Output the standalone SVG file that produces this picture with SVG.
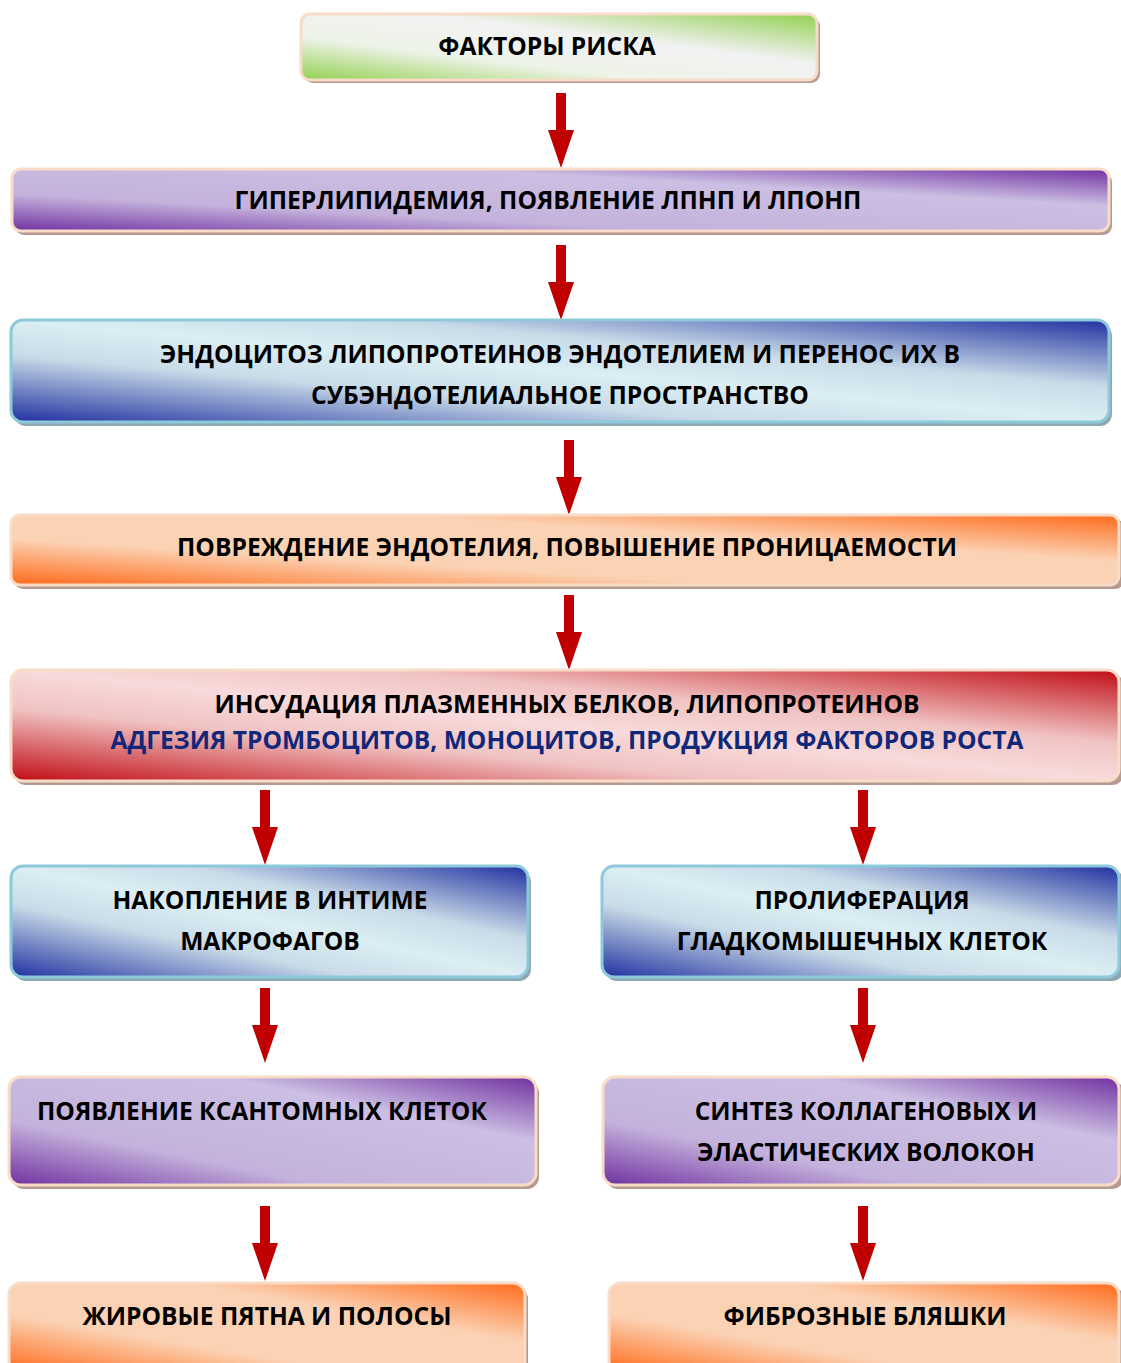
<svg xmlns="http://www.w3.org/2000/svg" width="1121" height="1363" viewBox="0 0 1121 1363">
<defs>
<linearGradient id="gGreen" x1="0" y1="1" x2="1" y2="0">
<stop offset="0" stop-color="#92d050"/><stop offset="0.33" stop-color="#eef3e8"/><stop offset="0.62" stop-color="#f2f2f2"/><stop offset="1" stop-color="#92d050"/>
</linearGradient>
<linearGradient id="gPurple" x1="0" y1="1" x2="1" y2="0">
<stop offset="0" stop-color="#7030a0"/><stop offset="0.3" stop-color="#c4b2dc"/><stop offset="0.7" stop-color="#ccbfe3"/><stop offset="1" stop-color="#7030a0"/>
</linearGradient>
<linearGradient id="gBlue" x1="0" y1="1" x2="1" y2="0">
<stop offset="0" stop-color="#2030a0"/><stop offset="0.33" stop-color="#c9dbe8"/><stop offset="0.5" stop-color="#dbeef3"/><stop offset="0.67" stop-color="#c9dbe8"/><stop offset="1" stop-color="#2030a0"/>
</linearGradient>
<linearGradient id="gOrange" x1="0" y1="1" x2="1" y2="0">
<stop offset="0" stop-color="#ff6a1a"/><stop offset="0.33" stop-color="#fbd2b3"/><stop offset="0.67" stop-color="#fbd2b3"/><stop offset="1" stop-color="#ff6a1a"/>
</linearGradient>
<linearGradient id="gRed" x1="0" y1="1" x2="1" y2="0">
<stop offset="0" stop-color="#c00c14"/><stop offset="0.33" stop-color="#f1c3c3"/><stop offset="0.5" stop-color="#f8dada"/><stop offset="0.67" stop-color="#f1c3c3"/><stop offset="1" stop-color="#c00c14"/>
</linearGradient>
<path id="arrow" d="M-5,0 H5 V37 H13 L0,75 L-13,37 H-5 Z" fill="#c00000"/>
</defs>
<style>
.sh { fill: #b59a92; }
.shb { fill: #8ea8b3; }
.bp { stroke: #f8dcc7; stroke-width: 3; }
.bb { stroke: #8ccadb; stroke-width: 3; }
text { font-family: "Open Sans", "Noto Sans", "Liberation Sans", sans-serif; font-weight: 700; font-size: 24.6px; fill: #000; text-anchor: middle; }
.blue { fill: #10287a; }
</style>
<rect width="1121" height="1363" fill="#ffffff"/>

<g id="connectors">
<use href="#arrow" x="561" y="93"/>
<use href="#arrow" x="561" y="245"/>
<use href="#arrow" x="569" y="440"/>
<use href="#arrow" x="569" y="595"/>
<use href="#arrow" x="265" y="790"/>
<use href="#arrow" x="863" y="790"/>
<use href="#arrow" x="265" y="988"/>
<use href="#arrow" x="863" y="988"/>
<use href="#arrow" x="265" y="1206"/>
<use href="#arrow" x="863" y="1206"/>
</g>

<g id="n1">
<rect class="sh" x="304" y="17" width="516" height="66" rx="9"/>
<rect class="bp" x="301" y="14" width="516" height="66" rx="9" fill="url(#gGreen)"/>
<text x="547" y="55">ФАКТОРЫ РИСКА</text>
</g>

<g id="n2">
<rect class="sh" x="15" y="173" width="1097" height="62" rx="9"/>
<rect class="bp" x="12" y="169" width="1097" height="62" rx="9" fill="url(#gPurple)"/>
<text x="548" y="209">ГИПЕРЛИПИДЕМИЯ, ПОЯВЛЕНИЕ ЛПНП И ЛПОНП</text>
</g>

<g id="n3">
<rect class="shb" x="14" y="324" width="1098" height="102" rx="12"/>
<rect class="bb" x="11" y="320" width="1098" height="102" rx="12" fill="url(#gBlue)"/>
<text x="560" y="363">ЭНДОЦИТОЗ ЛИПОПРОТЕИНОВ ЭНДОТЕЛИЕМ И ПЕРЕНОС ИХ В</text>
<text x="560" y="404">СУБЭНДОТЕЛИАЛЬНОЕ ПРОСТРАНСТВО</text>
</g>

<g id="n4">
<rect class="sh" x="14" y="519" width="1110" height="70" rx="9"/>
<rect class="bp" x="11" y="515" width="1108" height="70" rx="9" fill="url(#gOrange)"/>
<text x="567" y="556">ПОВРЕЖДЕНИЕ ЭНДОТЕЛИЯ, ПОВЫШЕНИЕ ПРОНИЦАЕМОСТИ</text>
</g>

<g id="n5">
<rect class="sh" x="14" y="674" width="1110" height="111" rx="12"/>
<rect class="bp" x="11" y="670" width="1108" height="111" rx="12" fill="url(#gRed)"/>
<text x="567" y="713">ИНСУДАЦИЯ ПЛАЗМЕННЫХ БЕЛКОВ, ЛИПОПРОТЕИНОВ</text>
<text class="blue" x="567" y="749">АДГЕЗИЯ ТРОМБОЦИТОВ, МОНОЦИТОВ, ПРОДУКЦИЯ ФАКТОРОВ РОСТА</text>
</g>

<g id="n6a">
<rect class="shb" x="14" y="870" width="517" height="111" rx="12"/>
<rect class="bb" x="11" y="866" width="517" height="111" rx="12" fill="url(#gBlue)"/>
<text x="270" y="909">НАКОПЛЕНИЕ В ИНТИМЕ</text>
<text x="270" y="950">МАКРОФАГОВ</text>
</g>

<g id="n6b">
<rect class="shb" x="605" y="870" width="519" height="111" rx="12"/>
<rect class="bb" x="602" y="866" width="517" height="111" rx="12" fill="url(#gBlue)"/>
<text x="862" y="909">ПРОЛИФЕРАЦИЯ</text>
<text x="862" y="950">ГЛАДКОМЫШЕЧНЫХ КЛЕТОК</text>
</g>

<g id="n7a">
<rect class="sh" x="12" y="1081" width="527" height="108" rx="12"/>
<rect class="bp" x="9" y="1077" width="527" height="108" rx="12" fill="url(#gPurple)"/>
<text x="262" y="1120">ПОЯВЛЕНИЕ КСАНТОМНЫХ КЛЕТОК</text>
</g>

<g id="n7b">
<rect class="sh" x="606" y="1081" width="518" height="108" rx="12"/>
<rect class="bp" x="603" y="1077" width="516" height="108" rx="12" fill="url(#gPurple)"/>
<text x="866" y="1120">СИНТЕЗ КОЛЛАГЕНОВЫХ И</text>
<text x="866" y="1161">ЭЛАСТИЧЕСКИХ ВОЛОКОН</text>
</g>

<g id="n8a">
<rect class="sh" x="12" y="1287" width="516" height="90" rx="12"/>
<rect class="bp" x="9" y="1283" width="516" height="90" rx="12" fill="url(#gOrange)"/>
<text x="267" y="1325">ЖИРОВЫЕ ПЯТНА И ПОЛОСЫ</text>
</g>

<g id="n8b">
<rect class="sh" x="612" y="1287" width="512" height="90" rx="12"/>
<rect class="bp" x="609" y="1283" width="510" height="90" rx="12" fill="url(#gOrange)"/>
<text x="865" y="1325">ФИБРОЗНЫЕ БЛЯШКИ</text>
</g>
</svg>
